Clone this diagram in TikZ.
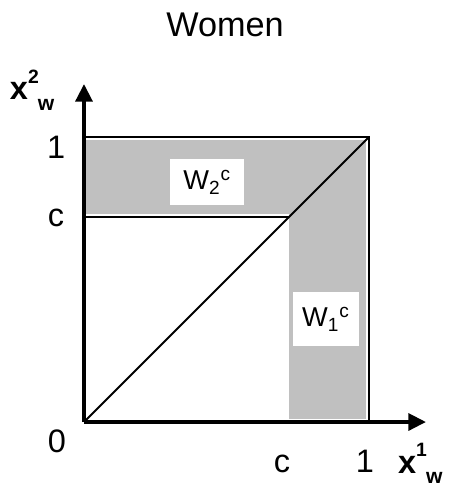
\documentclass[tikz,border=0pt]{standalone}
\usepackage{fontspec}
\setmainfont{Liberation Sans}
\usetikzlibrary{arrows.meta}
\definecolor{bandgray}{RGB}{192,192,192}

\begin{document}
\begin{tikzpicture}[x=5.7cm,y=5.7cm,
  axis/.style={line width=2.2pt,-{Triangle[length=10pt,width=9.5pt]}},
  edge/.style={line width=1.5pt},
  thin edge/.style={line width=1.1pt},
  lbl/.style={inner sep=0pt,font=\fontsize{18.5}{21}\selectfont},
  wbox/.style={fill=white,inner sep=0pt,font=\fontsize{15.5}{18}\selectfont}]

\useasboundingbox (-0.2947,-0.228) rectangle (1.2807,1.4807);

% Points
\coordinate (O) at (0,0);
\coordinate (xend) at (1.2,0);
\coordinate (yend) at (0,1.186);
\coordinate (top) at (0,1);
\coordinate (corner) at (1,1);
\coordinate (right) at (1,0);
\coordinate (cy) at (0,0.72);
\coordinate (cc) at (0.72,0.72);

% Bands
\fill[bandgray] (0.008,0.73) rectangle (0.99,0.988);
\fill[bandgray] (0.72,0.01) rectangle (0.99,0.988);

% Lines
\draw[edge] (top) -- (corner) -- (right);
\draw[thin edge] (cy) -- (cc);
\draw[thin edge] (O) -- (corner);
\draw[axis] (O) -- (xend);
\draw[axis] (O) -- (yend);

% Region labels
\node[wbox,minimum width=1.48cm,minimum height=0.92cm] (w2) at (0.432,0.842) {W\textsubscript{2}\textsuperscript{c}};
\node[wbox,minimum width=1.32cm,minimum height=1.08cm] (w1) at (0.849,0.361) {W\textsubscript{1}\textsuperscript{c}};

% Labels
\node[font=\fontsize{19.5}{22}\selectfont,inner sep=0pt] (title) at (0.495,1.393) {Women};
\node[lbl] (ylbl) at (-0.182,1.165) {\textbf{x\raisebox{0.95ex}{\fontsize{11}{11}\selectfont 2}\kern-0.5pt\raisebox{-0.6ex}{\fontsize{12}{12}\selectfont w}}};
\node[lbl] (xlbl) at (1.18,-0.145) {\textbf{x\raisebox{0.95ex}{\fontsize{11}{11}\selectfont 1}\kern-0.5pt\raisebox{-0.6ex}{\fontsize{12}{12}\selectfont w}}};
\node[lbl] (yone) at (-0.098,0.965) {1};
\node[lbl] (yc) at (-0.098,0.716) {c};
\node[lbl] (zero) at (-0.095,-0.067) {0};
\node[lbl] (xc) at (0.695,-0.147) {c};
\node[lbl] (xone) at (0.986,-0.137) {1};

\end{tikzpicture}
\end{document}
